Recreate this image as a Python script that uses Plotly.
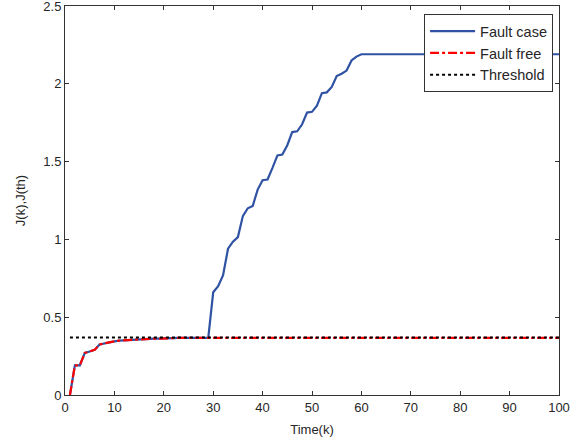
import plotly.graph_objects as go

# Time index
k = list(range(1, 101))

# Fault free residual evaluation (k = 1..100)
fault_free_head = [0.0, 0.19, 0.19, 0.27, 0.28, 0.29, 0.325, 0.333, 0.34, 0.345,
                   0.35, 0.352, 0.355, 0.357, 0.358, 0.36, 0.361, 0.362, 0.362, 0.364]
fault_free_tail_value = 0.367
fault_free = fault_free_head + [fault_free_tail_value] * (100 - len(fault_free_head))

# Fault case: same as fault free until k=29, then rises
fault_case_rise = [0.66, 0.70, 0.77, 0.94, 0.985, 1.015, 1.15, 1.20, 1.215, 1.32,
                   1.38, 1.385, 1.46, 1.54, 1.545, 1.605, 1.69, 1.695, 1.74, 1.815,
                   1.82, 1.86, 1.94, 1.945, 1.98, 2.05, 2.065, 2.085, 2.15, 2.175, 2.19]
fault_case_final = 2.19
fault_case = fault_free[:29] + fault_case_rise
fault_case = fault_case + [fault_case_final] * (100 - len(fault_case))

# Threshold
threshold_value = 0.37
threshold = [threshold_value] * 100

x_ticks = [0, 10, 20, 30, 40, 50, 60, 70, 80, 90, 100]
y_ticks = [0, 0.5, 1, 1.5, 2, 2.5]
y_tick_labels = ["0", "0.5", "1", "1.5", "2", "2.5"]

font_family = "Liberation Sans, Arial, sans-serif"
text_color = "#262626"

fig = go.Figure()
fig.add_trace(go.Scatter(x=k, y=fault_case, mode="lines", name="Fault case",
                         line=dict(color="#2f52a3", width=2.2)))
fig.add_trace(go.Scatter(x=k, y=fault_free, mode="lines", name="Fault free",
                         line=dict(color="#ff0000", width=2.2, dash="dashdot")))
fig.add_trace(go.Scatter(x=k, y=threshold, mode="lines", name="Threshold",
                         line=dict(color="#000000", width=2, dash="dot")))

axis_common = dict(showline=True, linecolor="#333333", linewidth=1, mirror="ticks",
                   ticks="inside", ticklen=4, tickcolor="#333333", showgrid=False,
                   zeroline=False, ticklabeloverflow="allow", automargin=False,
                   tickfont=dict(size=13, color=text_color, family=font_family))

fig.update_xaxes(range=[0, 100], tickvals=x_ticks,
                 title=dict(text="Time(k)", font=dict(size=13, color=text_color, family=font_family), standoff=11),
                 **axis_common)
fig.update_yaxes(range=[0, 2.5], tickvals=y_ticks, ticktext=y_tick_labels,
                 title=dict(text="J(k),J(th)", font=dict(size=13, color=text_color, family=font_family), standoff=14),
                 **axis_common)

fig.update_layout(
    width=586, height=443,
    margin=dict(l=65, r=27, t=6, b=48),
    paper_bgcolor="white", plot_bgcolor="white",
    font=dict(family=font_family, size=13, color=text_color),
    legend=dict(x=0.988, y=0.979, xanchor="right", yanchor="top",
                bordercolor="#333333", borderwidth=1, bgcolor="white",
                font=dict(size=14.5, family=font_family, color=text_color),
                itemwidth=45, tracegroupgap=0),
    showlegend=True,
)

fig.write_html("out.html", config={"displayModeBar": False},
               post_script="document.body.style.margin='0';")
